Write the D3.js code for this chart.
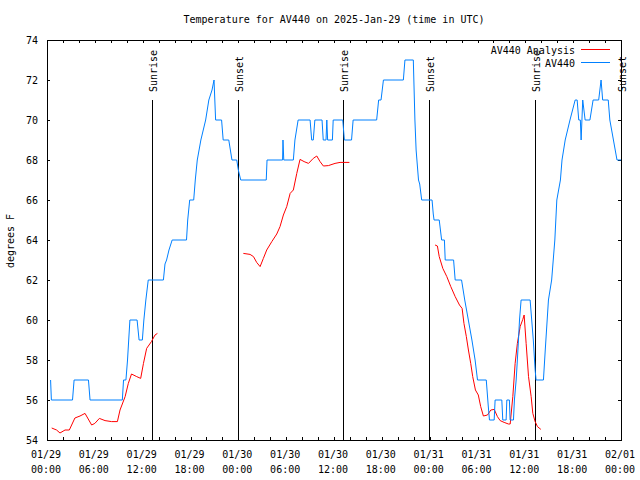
<!DOCTYPE html>
<html>
<head>
<meta charset="utf-8">
<script src="https://cdn.jsdelivr.net/npm/d3@7"></script>
<style>
  html, body { margin: 0; padding: 0; background: #fff; }
  svg { display: block; }
  text { font-family: "DejaVu Sans Mono", "Liberation Mono", monospace; font-size: 10px; fill: #000; }
</style>
</head>
<body>
<svg id="chart" width="640" height="480"></svg>
<script>
// ---- data (hours since 2025-01-29 00:00 UTC, degrees F) ----
const titleText = "Temperature for AV440 on 2025-Jan-29 (time in UTC)";
const yLabelText = "degrees F";
const seriesNames = ["AV440 Analysis", "AV440"];
const yTicks = [54, 56, 58, 60, 62, 64, 66, 68, 70, 72, 74];
const xTickDates = ["01/29","01/29","01/29","01/29","01/30","01/30","01/30","01/30","01/31","01/31","01/31","01/31","02/01"];
const xTickTimes = ["00:00","06:00","12:00","18:00","00:00","06:00","12:00","18:00","00:00","06:00","12:00","18:00","00:00"];

const sunLabels = ["Sunrise", "Sunset", "Sunrise", "Sunset", "Sunrise", "Sunset"];
const sunHours  = [13.2, 23.93, 37.18, 47.9, 61.27, 71.97];

// observed temperatures: [hour, value]
const obsHours = [0.45,0.55,3.2,3.4,5.2,5.4,9.45,9.6,9.9,10.1,10.25,10.4,11.3,11.55,11.96,12.15,12.4,12.7,14.6,14.8,15.0,15.3,15.7,17.5,17.65,17.9,18.4,18.6,18.85,19.3,19.9,20.3,20.7,20.95,21.15,21.9,22.1,22.8,23.2,23.8,24.0,24.3,27.5,27.6,29.55,29.6,29.7,30.9,31.1,31.5,33.0,33.2,33.4,33.6,34.5,34.65,35.0,35.1,35.2,35.8,35.9,37.1,37.3,38.2,38.4,41.35,41.6,41.9,42.2,44.7,44.9,45.95,46.15,46.3,46.6,46.75,47.0,48.3,48.45,48.55,49.2,49.5,49.85,49.95,51.0,51.2,52.0,52.4,52.85,53.3,53.7,54.0,55.1,55.35,55.5,56.09,56.21,57.05,57.17,57.59,57.68,58.0,58.09,58.51,58.63,58.85,59.0,59.14,59.27,59.47,60.6,60.8,61.0,61.23,61.35,62.27,62.5,62.9,63.3,63.5,63.7,63.95,64.4,64.6,65.0,65.6,66.25,66.5,66.7,66.9,67.0,67.1,67.2,67.5,68.1,68.5,69.2,69.5,69.7,70.4,70.6,71.05,71.5,72.0];
const obsValues = [57,56,56,57,57,56,56,57,57,58,59,60,60,59,59,60,61,62,62,62.8,63,63.5,64,64,65,66,66,67,68,69,70,71,71.5,72,70,70,69,69,68,68,67.5,67,67,68,68,69,68,68,69,70,70,69,69,70,70,69,69,70,69,69,70,70,69,69,70,70,71,71,72,72,73,73,70,68.5,67,66.8,66,66,65.3,65,65,64,64,63,63,62,62,61,60,59,58,57,57,55.7,55,55,56,56,55,55,56,56,55,55,56,57,58,59,60,61,61,60,59,57.5,57,57,58.5,61,62,63,64,66,67,68,69,70,71,71,70,70,69,70,71,70,70,71,71,72,71,71,70,69,68,68];

// analysis temperatures (null = gap)
const anaHours = [0.59,1.2,1.63,2.26,2.8,3.5,4.14,4.77,5.6,6.0,6.57,7.28,8.1,8.83,9.16,9.8,10.2,10.6,11.25,11.75,12.1,12.5,13.1,13.55,13.85,
  19.0,
  24.63,25.47,25.9,26.3,26.73,27.14,27.56,28.2,28.82,29.23,29.65,30.07,30.5,30.9,31.33,31.74,32.25,32.8,33.4,33.84,34.25,34.67,35.3,36.13,36.76,37.93,
  43.0,
  48.68,48.97,49.2,49.65,50.15,50.65,51.2,51.74,52.07,52.3,52.6,52.86,53.15,53.4,53.74,54.1,54.4,54.74,55.25,55.67,56.1,56.5,56.84,57.34,57.88,58.1,58.43,58.72,59.0,59.35,59.68,59.85,60.1,60.4,60.73,60.94,61.23,61.52,61.95];
const anaValues = [54.6,54.5,54.35,54.5,54.5,55.1,55.2,55.33,54.75,54.83,55.08,54.97,54.92,54.92,55.5,56.17,56.83,57.3,57.17,57.08,57.83,58.58,58.92,59.25,59.33,
  null,
  63.33,63.28,63.17,62.88,62.67,63.08,63.5,63.92,64.3,64.67,65.25,65.67,66.33,66.5,67.33,68.03,67.92,67.83,68.08,68.2,67.92,67.7,67.72,67.83,67.88,67.88,
  null,
  63.75,63.7,63.17,62.58,62.17,61.67,61.17,60.75,60.58,59.83,59.17,58.5,57.83,57.17,56.5,56.25,55.67,55.2,55.25,55.5,55.53,55.17,54.97,54.88,54.8,54.8,56.17,57.83,58.83,59.67,60.03,60.25,58.83,57.17,56.17,55.33,54.92,54.67,54.53];

// ---- chart ----
const svg = d3.select("#chart");
const L = 47, R = 621, T = 40, B = 440;
const t0 = Date.UTC(2025, 0, 29);
const hourToDate = h => new Date(t0 + h * 3600e3);

const x = d3.scaleUtc().domain([hourToDate(0), hourToDate(72)]).range([L, R]);
const y = d3.scaleLinear().domain([54, 74]).range([B, T]);

const blue = "#0080ff", red = "#ff0000";

// title
svg.append("text").attr("x", 334).attr("y", 23).attr("text-anchor", "middle").text(titleText);

// y label
svg.append("text").attr("transform", "translate(14,241) rotate(-90)")
  .attr("text-anchor", "middle").text(yLabelText);

const minorTicks = d3.utcHour.every(2).range(hourToDate(0), hourToDate(72.01));
const majorTicks = d3.utcHour.every(6).range(hourToDate(0), hourToDate(72.01));

function styleAxis(g) {
  g.select(".domain").remove();
  g.selectAll("line").attr("stroke", "#000").attr("shape-rendering", "crispEdges");
}

// bottom / top ticks (inward)
const gb = svg.append("g").attr("transform", `translate(0,${B})`)
  .call(d3.axisBottom(x).tickValues(minorTicks).tickSizeInner(-3).tickSizeOuter(0).tickFormat(""));
styleAxis(gb);
const gtop = svg.append("g").attr("transform", `translate(0,${T})`)
  .call(d3.axisTop(x).tickValues(minorTicks).tickSizeInner(-3).tickSizeOuter(0).tickFormat(""));
styleAxis(gtop);

// two-line x tick labels
const gl = svg.append("g");
majorTicks.forEach((d, i) => {
  const t = gl.append("text").attr("text-anchor", "middle");
  t.append("tspan").attr("x", x(d) - 1).attr("y", 458).text(xTickDates[i]);
  t.append("tspan").attr("x", x(d) - 1).attr("y", 473).text(xTickTimes[i]);
});

// left / right y ticks
const gy = svg.append("g").attr("transform", `translate(${L},0)`)
  .call(d3.axisLeft(y).tickValues(yTicks).tickSizeInner(-3).tickSizeOuter(0).tickPadding(9).tickFormat(d3.format("d")));
styleAxis(gy);
gy.selectAll("text").attr("font-family", null).attr("font-size", null).attr("fill", "#000");
const gyr = svg.append("g").attr("transform", `translate(${R},0)`)
  .call(d3.axisRight(y).tickValues(yTicks).tickSizeInner(-3).tickSizeOuter(0).tickFormat(""));
styleAxis(gyr);

// frame
svg.append("rect").attr("x", L).attr("y", T).attr("width", R - L).attr("height", B - T)
  .attr("fill", "none").attr("stroke", "#000").attr("shape-rendering", "crispEdges");

// sunrise/sunset lines
sunHours.forEach((h, i) => {
  const xx = Math.round(x(hourToDate(h))) + 0.5;
  svg.append("line").attr("x1", xx).attr("x2", xx).attr("y1", 100).attr("y2", B)
    .attr("stroke", "#000").attr("shape-rendering", "crispEdges");
  svg.append("text").attr("transform", `translate(${xx + 0.5},92) rotate(-90)`)
    .attr("text-anchor", "start").attr("dy", "0.35em").text(sunLabels[i]);
});

// series
const anaData = anaHours.map((h, i) => ({ t: hourToDate(h), v: anaValues[i] }));
const obsData = obsHours.map((h, i) => ({ t: hourToDate(h), v: obsValues[i] }));
const line = d3.line().defined(d => d.v !== null).x(d => x(d.t)).y(d => y(d.v));

svg.append("path").datum(anaData).attr("d", line)
  .attr("fill", "none").attr("stroke", red).attr("stroke-width", 1);
svg.append("path").datum(obsData).attr("d", line)
  .attr("fill", "none").attr("stroke", blue).attr("stroke-width", 1);

// legend
const legendY = [50, 63];
const legendColors = [red, blue];
seriesNames.forEach((name, i) => {
  svg.append("text").attr("x", 575).attr("y", legendY[i]).attr("dy", "0.35em")
    .attr("text-anchor", "end").text(name);
  svg.append("line").attr("x1", 581).attr("x2", 610).attr("y1", legendY[i] - 0.5).attr("y2", legendY[i] - 0.5)
    .attr("stroke", legendColors[i]).attr("stroke-width", 1);
});
</script>
</body>
</html>
